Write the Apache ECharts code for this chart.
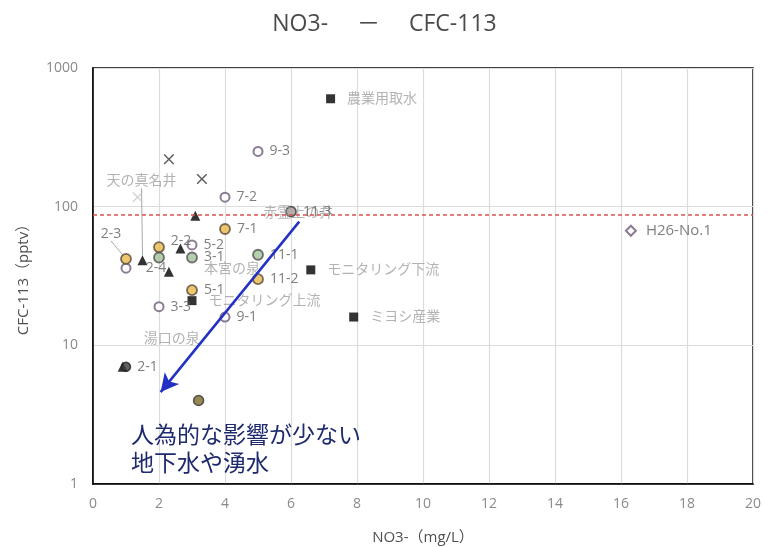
<!DOCTYPE html>
<html>
<head>
<meta charset="utf-8">
<script src="https://cdn.jsdelivr.net/npm/echarts@6/dist/echarts.min.js"></script>
<style>
html, body { margin: 0; padding: 0; background: #fff; }
#chart { width: 769px; height: 547px; }
</style>
</head>
<body>
<div id="chart"></div>
<script>
// ---- values (NO3- in mg/L, CFC-113 in pptv) ----
const xTicks = [0, 2, 4, 6, 8, 10, 12, 14, 16, 18, 20];
const yTicks = [1, 10, 100, 1000];

// facilities (black squares)
const facilityNames = ['農業用取水', 'モニタリング下流', 'ミヨシ産業', 'モニタリング上流'];
const facilityNO3 = [7.2, 6.6, 7.9, 3.0];
const facilityCFC = [600, 35, 16, 21];

// crosses
const crossNO3 = [2.3, 3.3];
const crossCFC = [220, 158];
const faintCrossNO3 = [1.35];
const faintCrossCFC = [117];

// springs (black triangles)
const springNames = ['天の真名井', '本宮の泉', '', '赤霊上の井', '湯口の泉'];
const springNO3 = [1.5, 2.3, 2.65, 3.1, 0.9];
const springCFC = [41, 34, 50, 86, 7];

// wells, open circles
const openNames = ['9-3', '7-2', '5-2', '3-3', '9-1', ''];
const openNO3 = [5, 4, 3, 2, 4, 1];
const openCFC = [250, 117, 53, 19, 16, 36];

// wells, yellow circles
const yellowNames = ['7-1', '11-2', '5-1', '2-3', '2-2'];
const yellowNO3 = [4, 5, 3, 1, 2];
const yellowCFC = [69, 30, 25, 42, 51];

// wells, green circles
const greenNames = ['3-1', '11-1', '2-4'];
const greenNO3 = [3, 5, 2];
const greenCFC = [43, 45, 43];

// wells, grey / dark / olive circles
const greyNames = ['11-3'];
const greyNO3 = [6];
const greyCFC = [92];
const darkNames = ['2-1'];
const darkNO3 = [1];
const darkCFC = [7];
const oliveNames = [''];
const oliveNO3 = [3.2];
const oliveCFC = [4];

// H26 sample (diamond)
const diamondNames = ['H26-No.1'];
const diamondNO3 = [16.3];
const diamondCFC = [67];

// reference concentration line and trend arrow
const guideCFC = 88;
const arrowFrom = [6.25, 78];
const arrowTo = [2.05, 4.6];
const noteLines = ['人為的な影響が少ない', '地下水や湧水'];

// ---- label placement (kept apart from the values) ----
const labelShift = {
  '天の真名井': { dx: -1, dy: -79, line: true },
  '湯口の泉': { dx: 49, dy: -28 },
  '本宮の泉': { dx: 63, dy: -3 },
  '赤霊上の井': { dx: 103, dy: -3 },
  '2-3': { dx: -15, dy: -25, line: true },
  '2-4': { dx: -3, dy: 11 },
  '2-2': { dx: 22, dy: -6 }
};

const FONT = "'Open Sans', 'Noto Sans CJK JP', sans-serif";
const NUM_LABEL = '#5e5e5e';
const NAME_LABEL = '#a0a0a0';
const CROSS_PATH = 'path://M0,0 L2,0 L10,8 L18,0 L20,0 L20,2 L12,10 L20,18 L20,20 L18,20 L10,12 L2,20 L0,20 L0,18 L8,10 L0,2 Z';

function buildPoints(names, xs, ys) {
  return xs.map((x, i) => {
    const name = names[i] || '';
    const item = { name: name, value: [x, ys[i]] };
    const s = labelShift[name];
    if (s) {
      item.label = { position: 'inside' };
      if (s.line) item.labelLine = { show: true };
    }
    return item;
  });
}

function shiftLayout(names) {
  return function (p) {
    const s = labelShift[names[p.dataIndex]];
    return s ? { dx: s.dx, dy: s.dy } : {};
  };
}

function pointSeries(opts) {
  return {
    type: 'scatter',
    name: opts.id,
    data: buildPoints(opts.names, opts.xs, opts.ys),
    symbol: opts.symbol,
    symbolSize: opts.size,
    itemStyle: opts.itemStyle,
    label: {
      show: true,
      position: 'right',
      distance: opts.distance || 6,
      formatter: p => p.name,
      color: opts.labelColor || NUM_LABEL,
      fontSize: opts.fontSize || 14,
      fontFamily: FONT
    },
    labelLine: { show: false, lineStyle: { color: '#a8a8a8', width: 1 } },
    labelLayout: shiftLayout(opts.names),
    z: opts.z || 3,
    silent: true
  };
}

const chart = echarts.init(document.getElementById('chart'), null, { renderer: 'canvas' });

chart.setOption({
  backgroundColor: '#fff',
  animation: false,
  title: {
    text: 'NO3-　 －　 CFC-113',
    left: 'center',
    top: 8,
    textStyle: { fontFamily: FONT, fontSize: 23, fontWeight: 'normal', color: '#4a4a4a' }
  },
  grid: {
    left: 93, right: 16, top: 68, bottom: 63,
    outerBoundsMode: 'none',
    show: true, borderColor: '#000', borderWidth: 1.5, backgroundColor: '#fff'
  },
  xAxis: {
    type: 'value',
    min: xTicks[0],
    max: xTicks[xTicks.length - 1],
    interval: xTicks[1] - xTicks[0],
    name: 'NO3-（mg/L）',
    nameLocation: 'middle',
    nameGap: 46,
    nameTextStyle: { fontFamily: FONT, fontSize: 15, color: '#505050' },
    axisLine: { show: true, lineStyle: { color: '#000', width: 1.5 } },
    axisTick: { show: false },
    axisLabel: { fontFamily: FONT, fontSize: 14, color: '#8a8a8a', margin: 13 },
    splitLine: { show: true, lineStyle: { color: '#dcdcdc', width: 1.2 } }
  },
  yAxis: {
    type: 'log',
    logBase: 10,
    min: yTicks[0],
    max: yTicks[yTicks.length - 1],
    name: 'CFC-113（pptv）',
    nameLocation: 'middle',
    nameGap: 62,
    nameRotate: 90,
    nameTextStyle: { fontFamily: FONT, fontSize: 15, color: '#505050' },
    axisLine: { show: true, lineStyle: { color: '#000', width: 1.5 } },
    axisTick: { show: false },
    axisLabel: {
      fontFamily: FONT, fontSize: 14, color: '#8a8a8a', margin: 15,
      formatter: v => String(v)
    },
    splitLine: { show: true, lineStyle: { color: '#dcdcdc', width: 1.2 } },
    minorSplitLine: { show: false }
  },
  graphic: [{
    type: 'text',
    left: 131,
    top: 420,
    style: {
      text: noteLines.join('\n'),
      font: "23px 'Noto Sans CJK JP'",
      fill: '#1f2a6e',
      lineHeight: 28
    },
    z: 10
  }],
  series: [
    {
      type: 'scatter',
      name: 'guides',
      data: [],
      silent: true,
      markLine: {
        silent: true,
        animation: false,
        symbol: ['none', 'none'],
        label: { show: false },
        data: [
          {
            yAxis: guideCFC,
            lineStyle: { color: '#d9534f', type: [4, 3], width: 1.5 }
          },
          [
            { coord: arrowFrom },
            { coord: arrowTo, symbol: 'arrow', symbolSize: [14, 18] }
          ]
        ],
        lineStyle: { color: '#2330c4', width: 2.5, type: 'solid' }
      },
      z: 2
    },
    pointSeries({
      id: 'facility', names: facilityNames, xs: facilityNO3, ys: facilityCFC,
      symbol: 'rect', size: 9, distance: 12, labelColor: NAME_LABEL,
      itemStyle: { color: '#000' }
    }),
    pointSeries({
      id: 'cross', names: ['', ''], xs: crossNO3, ys: crossCFC,
      symbol: CROSS_PATH, size: 10, itemStyle: { color: '#333' }
    }),
    pointSeries({
      id: 'faintCross', names: [''], xs: faintCrossNO3, ys: faintCrossCFC,
      symbol: CROSS_PATH, size: 10, itemStyle: { color: '#c8c8c8' }
    }),
    pointSeries({
      id: 'spring', names: springNames, xs: springNO3, ys: springCFC,
      symbol: 'triangle', size: 10, labelColor: NAME_LABEL,
      itemStyle: { color: '#000' }
    }),
    pointSeries({
      id: 'open', names: openNames, xs: openNO3, ys: openCFC,
      symbol: 'circle', size: 9,
      itemStyle: { color: '#fff', borderColor: '#6e5a78', borderWidth: 2 }
    }),
    pointSeries({
      id: 'yellow', names: yellowNames, xs: yellowNO3, ys: yellowCFC,
      symbol: 'circle', size: 10,
      itemStyle: { color: '#e8b84a', borderColor: '#5a4a3c', borderWidth: 1.8 }
    }),
    pointSeries({
      id: 'green', names: greenNames, xs: greenNO3, ys: greenCFC,
      symbol: 'circle', size: 10,
      itemStyle: { color: '#a3c29a', borderColor: '#505050', borderWidth: 1.8 }
    }),
    pointSeries({
      id: 'grey', names: greyNames, xs: greyNO3, ys: greyCFC,
      symbol: 'circle', size: 10,
      itemStyle: { color: '#a89a9a', borderColor: '#3a3a3a', borderWidth: 1.8 }
    }),
    pointSeries({
      id: 'dark', names: darkNames, xs: darkNO3, ys: darkCFC,
      symbol: 'circle', size: 9,
      itemStyle: { color: '#3a3a3a', borderColor: '#222', borderWidth: 1.5 }
    }),
    pointSeries({
      id: 'olive', names: oliveNames, xs: oliveNO3, ys: oliveCFC,
      symbol: 'circle', size: 10,
      itemStyle: { color: '#7a6a2a', borderColor: '#333', borderWidth: 1.5 }
    }),
    pointSeries({
      id: 'diamond', names: diamondNames, xs: diamondNO3, ys: diamondCFC,
      symbol: 'diamond', size: 10, distance: 9, fontSize: 15,
      itemStyle: { color: '#fff', borderColor: '#6e5a78', borderWidth: 2 }
    })
  ]
});
</script>
</body>
</html>
